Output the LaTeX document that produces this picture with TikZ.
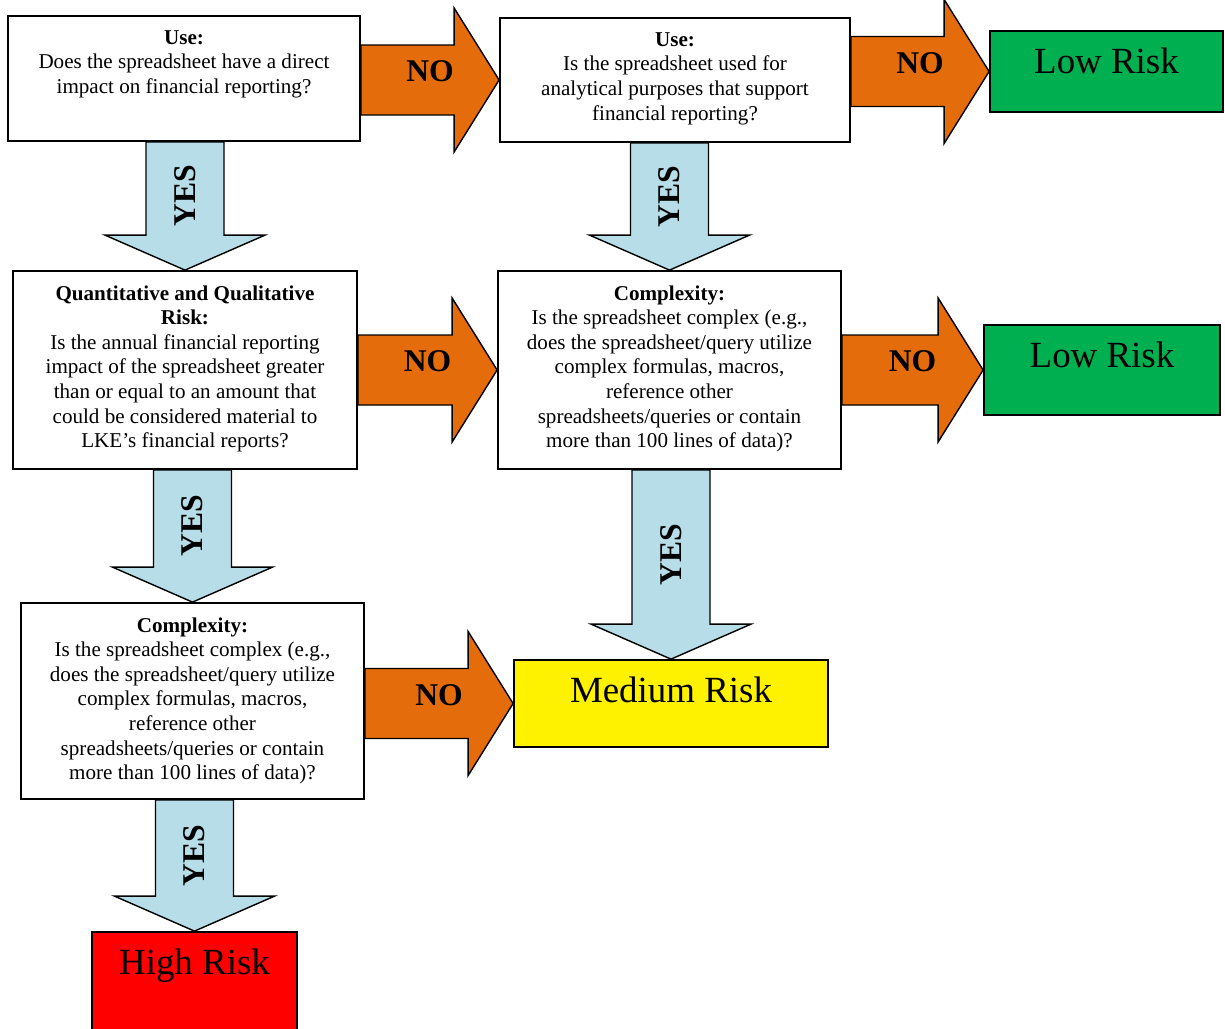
\documentclass[tikz,border=0pt]{standalone}
\usepackage{fontspec}
\setmainfont{Liberation Serif}
\usetikzlibrary{calc}
\definecolor{noorange}{RGB}{228,108,10}
\definecolor{yesblue}{RGB}{183,221,232}
\definecolor{lowgreen}{RGB}{0,176,80}
\tikzset{
    qbox/.style={draw, line width=1pt, fill=white, inner sep=0pt},
    qtext/.style={anchor=north, yshift=-0.3cm, align=center, inner sep=0pt, font=\fontsize{12}{14}\selectfont},
    riskbox/.style={draw, line width=1pt, inner sep=0pt},
    risktext/.style={anchor=base, inner sep=0pt, font=\fontsize{21}{24}\selectfont},
    noshape/.style={draw, line width=0.8pt, fill=noorange},
    yesshape/.style={draw, line width=0.8pt, fill=yesblue},
    arrowtext/.style={inner sep=0pt, font=\fontsize{18}{20}\selectfont\bfseries}
}
\newcommand{\noArrow}[3]{%
    \path (#1.east |- #2.west) coordinate (#3s) (#2.west) coordinate (#3t);
    \draw[noshape] ($(#3s)+(0,0.7)$) -- ($(#3t)+(-0.9,0.7)$) -- ($(#3t)+(-0.9,1.44)$) -- (#3t)
        -- ($(#3t)+(-0.9,-1.44)$) -- ($(#3t)+(-0.9,-0.7)$) -- ($(#3s)+(0,-0.7)$) -- cycle;
    \node[arrowtext] (#3) at ($(#3s)!0.5!(#3t)+(0,0.17)$) {NO};}
\newcommand{\yesArrow}[3]{%
    \path (#2.north |- #1.south) coordinate (#3s) (#2.north) coordinate (#3t);
    \draw[yesshape] ($(#3s)+(-0.78,0)$) -- ($(#3t)+(-0.78,0.7)$) -- ($(#3t)+(-1.6,0.7)$) -- (#3t)
        -- ($(#3t)+(1.6,0.7)$) -- ($(#3t)+(0.78,0.7)$) -- ($(#3s)+(0.78,0)$) -- cycle;
    \node[arrowtext, rotate=90] (#3) at ($(#3s)!0.5!(#3t)+(0,0.2)$) {YES};}

\begin{document}
\begin{tikzpicture}
            \useasboundingbox (0,0) rectangle (24.5,-20.58);
            \node[qbox, minimum width=7.04cm, minimum height=2.5cm] (use1) at (3.68,-1.57) {};
            \node[qtext] (use1txt) at (use1.north) {\textbf{Use:}\\Does the spreadsheet have a direct\\impact on financial reporting?};
            \node[qbox, minimum width=7cm, minimum height=2.48cm] (use2) at (13.5,-1.6) {};
            \node[qtext] (use2txt) at (use2.north) {\textbf{Use:}\\Is the spreadsheet used for\\analytical purposes that support\\financial reporting?};
            \node[qbox, minimum width=6.88cm, minimum height=3.96cm] (quant) at (3.7,-7.4) {};
            \node[qtext] (quanttxt) at (quant.north) {\textbf{Quantitative and Qualitative}\\\textbf{Risk:}\\Is the annual financial reporting\\impact of the spreadsheet greater\\than or equal to an amount that\\could be considered material to\\LKE’s financial reports?};
            \node[qbox, minimum width=6.86cm, minimum height=3.96cm] (cplx2) at (13.39,-7.4) {};
            \node[qtext] (cplx2txt) at (cplx2.north) {\textbf{Complexity:}\\Is the spreadsheet complex (e.g.,\\does the spreadsheet/query utilize\\complex formulas, macros,\\reference other\\spreadsheets/queries or contain\\more than 100 lines of data)?};
            \node[qbox, minimum width=6.86cm, minimum height=3.92cm] (cplx1) at (3.85,-14.02) {};
            \node[qtext] (cplx1txt) at (cplx1.north) {\textbf{Complexity:}\\Is the spreadsheet complex (e.g.,\\does the spreadsheet/query utilize\\complex formulas, macros,\\reference other\\spreadsheets/queries or contain\\more than 100 lines of data)?};

            \node[riskbox, fill=lowgreen, minimum width=4.66cm, minimum height=1.62cm] (low1) at (22.13,-1.43) {};
            \node[risktext] (low1txt) at ($(low1.north)+(0,-0.87)$) {Low Risk};
            \node[riskbox, fill=lowgreen, minimum width=4.72cm, minimum height=1.8cm] (low2) at (22.04,-7.4) {};
            \node[risktext] (low2txt) at ($(low2.north)+(0,-0.87)$) {Low Risk};
            \node[riskbox, fill=yellow, minimum width=6.28cm, minimum height=1.74cm] (medium) at (13.42,-14.07) {};
            \node[risktext] (mediumtxt) at ($(medium.north)+(0,-0.87)$) {Medium Risk};
            \node[riskbox, fill=red, minimum width=4.1cm, minimum height=2.16cm] (high) at (3.89,-19.72) {};
            \node[risktext] (hightxt) at ($(high.north)+(0,-0.87)$) {High Risk};

            \noArrow{use1}{use2}{no1}
            \noArrow{use2}{low1}{no2}
            \noArrow{quant}{cplx2}{no3}
            \noArrow{cplx2}{low2}{no4}
            \noArrow{cplx1}{medium}{no5}
            \yesArrow{use1}{quant}{yes1}
            \yesArrow{use2}{cplx2}{yes2}
            \yesArrow{quant}{cplx1}{yes3}
            \yesArrow{cplx2}{medium}{yes4}
            \yesArrow{cplx1}{high}{yes5}
\end{tikzpicture}
\end{document}
